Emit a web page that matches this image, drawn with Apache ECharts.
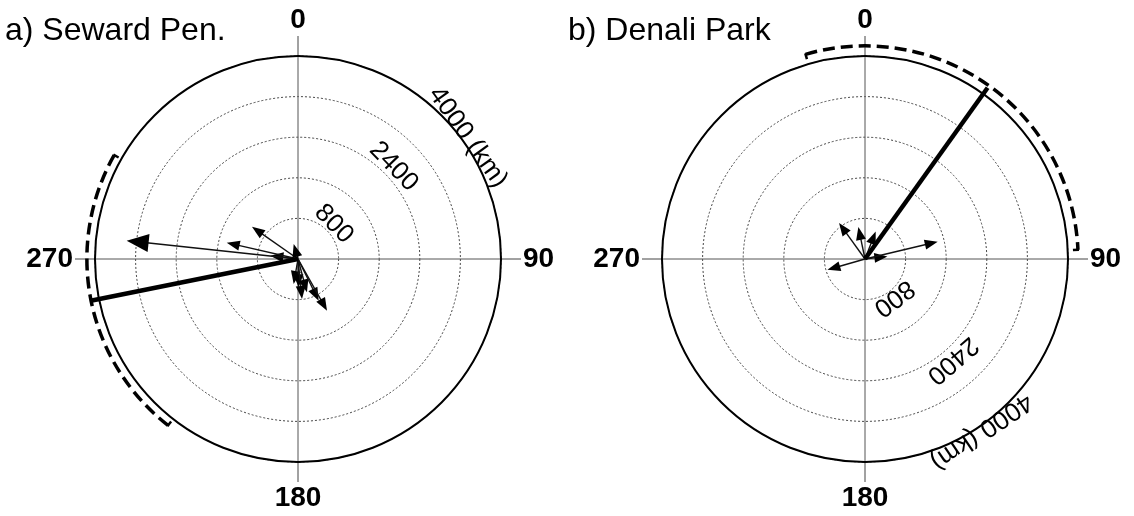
<!DOCTYPE html>
<html>
<head>
<meta charset="utf-8">
<script src="https://cdn.jsdelivr.net/npm/echarts@6/dist/echarts.min.js"></script>
<style>
  html, body { margin: 0; padding: 0; background: #fff; }
  #chart { width: 1134px; height: 516px; }
</style>
</head>
<body>
<div id="chart"></div>
<script>
// panel titles
var titles = ['a) Seward Pen.', 'b) Denali Park'];

// individual displacement vectors: length (km) and bearing (deg, clockwise from north)
var arrowLenA = [1107, 548, 1440, 3395, 307, 500, 560, 792, 680, 916, 1168];
var arrowDirA = [305, 276.8, 282.9, 276.1, 344, 189.8, 178.6, 174.3, 165, 153.6, 150.7];
var arrowLenB = [875, 644, 583, 444, 770, 1472];
var arrowDirB = [324.2, 348.3, 21.2, 83.4, 254, 76.6];

// mean direction (thick line): length and bearing
var meanA = [4167, 258.6];
var meanB = [4150, 35.6];

// confidence interval arc: radius (km), from bearing, to bearing
var ciA = [4160, 218, 299.5];
var ciB = [4200, 343.8, 87.5];

// ring labels
var ringText = ['800', '2400', '4000 (km)'];
var ringRadA = [985, 2620, 4118];
var ringDirA = [45.6, 46, 54.4];
var ringRadB = [958, 2638, 4098];
var ringDirB = [143.4, 139.2, 146];

// axis ticks
var radiusMax = 4000, radiusStep = 800;
var angleStep = 90;

var FONT = 'Liberation Sans';

function arrowItem(params, api) {
  var r = api.value(0), a = api.value(1);
  var o = api.coord([0, a]);
  var p = api.coord([r, a]);
  var dx = p[0] - o[0], dy = p[1] - o[1];
  var len = Math.sqrt(dx * dx + dy * dy) || 1;
  var ux = dx / len, uy = dy / len;
  var big = r > 2500;
  var hl = big ? 22 : 13, hw = big ? 9 : 5;
  var bx = p[0] - ux * hl, by = p[1] - uy * hl;
  return {
    type: 'group',
    children: [
      { type: 'line', shape: { x1: o[0], y1: o[1], x2: bx + ux * 2, y2: by + uy * 2 },
        style: { stroke: '#111', lineWidth: 1.4 } },
      { type: 'polygon',
        shape: { points: [[p[0], p[1]], [bx - uy * hw, by + ux * hw], [bx + uy * hw, by - ux * hw]] },
        style: { fill: '#000' } }
    ]
  };
}

function meanItem(params, api) {
  var r = api.value(0), a = api.value(1);
  var o = api.coord([0, a]);
  var p = api.coord([r, a]);
  return { type: 'line', shape: { x1: o[0], y1: o[1], x2: p[0], y2: p[1] },
    style: { stroke: '#000', lineWidth: 4.5 } };
}

function arcItem(params, api) {
  var R = api.value(0), a0 = api.value(1), a1 = api.value(2);
  var o = api.coord([0, 0]);
  var p = api.coord([R, a0]);
  var q = api.coord([R, a1]);
  var rp = Math.sqrt((p[0] - o[0]) * (p[0] - o[0]) + (p[1] - o[1]) * (p[1] - o[1]));
  var s = (a0 - 90) * Math.PI / 180;
  var e = (a1 - 90) * Math.PI / 180;
  if (e < s) e += Math.PI * 2;
  function tick(pt) {
    var ux = (pt[0] - o[0]) / rp, uy = (pt[1] - o[1]) / rp;
    return { type: 'line', shape: { x1: pt[0] + ux, y1: pt[1] + uy, x2: pt[0] - ux * 5, y2: pt[1] - uy * 5 },
      style: { stroke: '#000', lineWidth: 2.5 } };
  }
  return {
    type: 'group',
    children: [
      { type: 'arc', shape: { cx: o[0], cy: o[1], r: rp, startAngle: s, endAngle: e, clockwise: true },
        style: { stroke: '#000', fill: 'none', lineWidth: 3.5, lineDash: [12, 6] } },
      tick(p), tick(q)
    ]
  };
}

function textItem(params, api) {
  var r = api.value(0), a = api.value(1);
  var p = api.coord([r, a]);
  return {
    type: 'text', x: p[0], y: p[1], rotation: -a * Math.PI / 180,
    style: { text: ringText[params.dataIndex], fontSize: 26, fontFamily: FONT, fill: '#000',
      align: 'center', verticalAlign: 'middle' }
  };
}

function pairs(a, b) {
  return a.map(function (v, i) { return [v, b[i]]; });
}

function angleAxis(i) {
  return {
    polarIndex: i, type: 'value', min: 0, max: 360, interval: angleStep,
    startAngle: 90, clockwise: true,
    axisLine: { lineStyle: { color: '#000', width: 2 } },
    axisTick: { show: true, inside: false, length: 20, lineStyle: { color: '#444', width: 1 } },
    axisLabel: { margin: 22, fontSize: 28, fontWeight: 'bold', color: '#000', fontFamily: FONT,
      formatter: function (v) { return v === 360 ? '' : String(v); } },
    splitLine: { show: true, lineStyle: { color: '#555', width: 1 } }
  };
}

function radiusAxis(i) {
  return {
    polarIndex: i, type: 'value', min: 0, max: radiusMax, interval: radiusStep,
    axisLine: { show: false }, axisTick: { show: false }, axisLabel: { show: false },
    splitLine: { show: true, lineStyle: { color: '#444', width: 1, type: [2, 2] } }
  };
}

function panelSeries(i, lens, dirs, mean, ci, ringRad, ringDir) {
  return [
    { type: 'custom', coordinateSystem: 'polar', polarIndex: i, renderItem: arrowItem,
      data: pairs(lens, dirs), silent: true },
    { type: 'custom', coordinateSystem: 'polar', polarIndex: i, renderItem: meanItem,
      data: [mean], silent: true },
    { type: 'custom', coordinateSystem: 'polar', polarIndex: i, renderItem: arcItem,
      data: [ci], silent: true },
    { type: 'custom', coordinateSystem: 'polar', polarIndex: i, renderItem: textItem,
      data: pairs(ringRad, ringDir), silent: true, z: 1 }
  ];
}

var chart = echarts.init(document.getElementById('chart'));
chart.setOption({
  animation: false,
  backgroundColor: '#fff',
  title: [
    { text: titles[0], left: 5, top: 15, padding: 0,
      textStyle: { fontSize: 32, fontWeight: 'normal', color: '#000', fontFamily: FONT } },
    { text: titles[1], left: 568, top: 15, padding: 0,
      textStyle: { fontSize: 32, fontWeight: 'normal', color: '#000', fontFamily: FONT } }
  ],
  polar: [
    { center: [298, 259], radius: 203 },
    { center: [865, 259], radius: 203 }
  ],
  angleAxis: [angleAxis(0), angleAxis(1)],
  radiusAxis: [radiusAxis(0), radiusAxis(1)],
  series: [].concat(
    panelSeries(0, arrowLenA, arrowDirA, meanA, ciA, ringRadA, ringDirA),
    panelSeries(1, arrowLenB, arrowDirB, meanB, ciB, ringRadB, ringDirB)
  )
});
</script>
</body>
</html>
